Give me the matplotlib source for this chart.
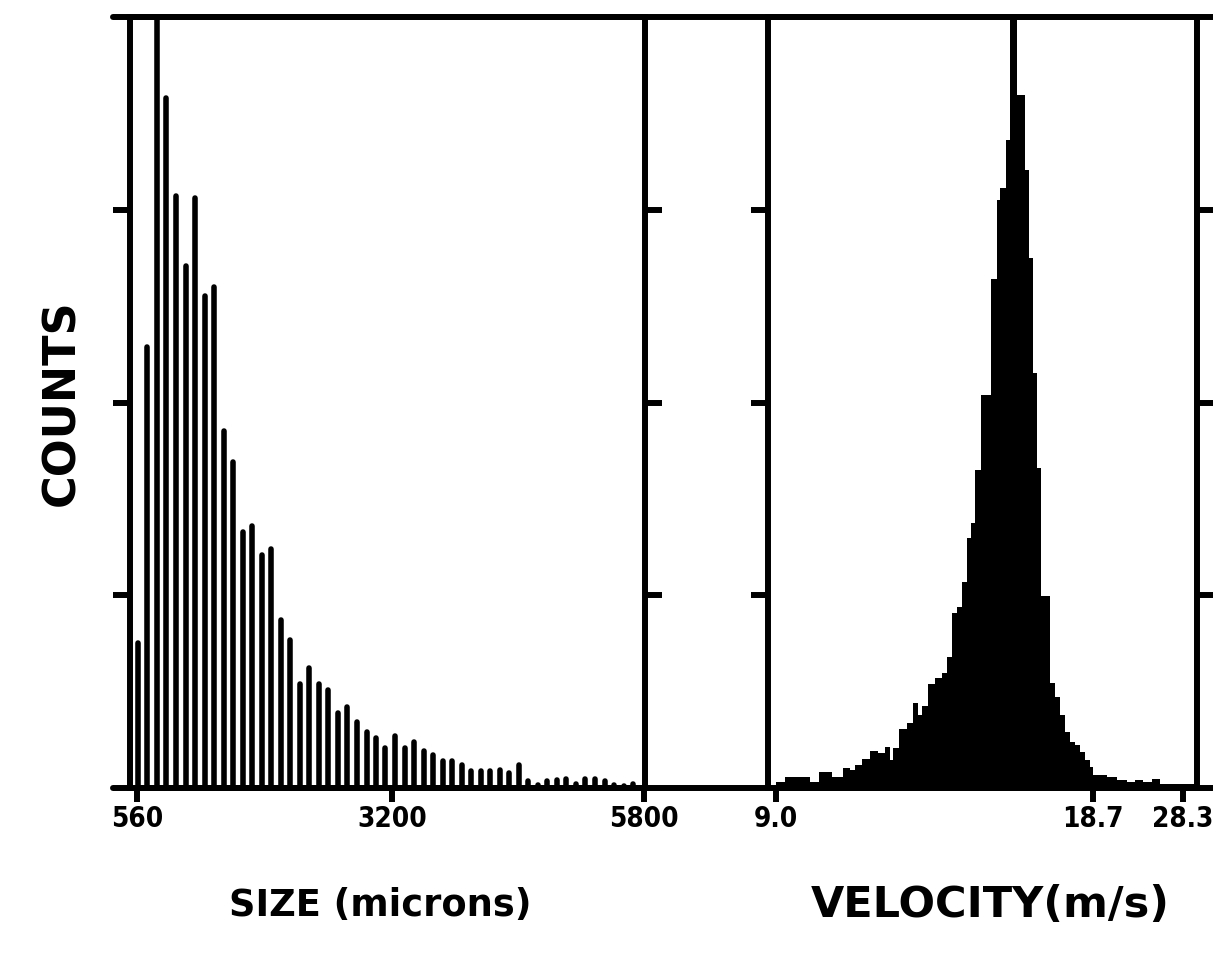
import numpy as np
import matplotlib.pyplot as plt
from matplotlib.lines import Line2D

# size histogram: bin centres (microns) and counts
size_bins = [570, 668, 767, 865, 964, 1062, 1160, 1259, 1357, 1456,
             1554, 1652, 1751, 1849, 1948, 2046, 2144, 2243, 2341, 2440,
             2538, 2636, 2735, 2833, 2932, 3030, 3128, 3227, 3325, 3424,
             3522, 3620, 3719, 3817, 3916, 4014, 4112, 4211, 4309, 4408,
             4506, 4604, 4703, 4801, 4900, 4998, 5096, 5195, 5293, 5392,
             5490, 5588, 5687]
size_counts = [75, 229, 450, 358, 307, 271, 306, 255, 260, 185,
               169, 133, 136, 121, 124, 87, 77, 54, 62, 54,
               51, 39, 42, 34, 29, 26, 21, 27, 21, 24,
               19, 17, 14, 14, 12, 9, 9, 9, 9.5, 8,
               12, 3.5, 1.5, 3.5, 4, 4.5, 2, 4.5, 4.5, 3.5,
               1.5, 1, 2]

# velocity histogram: step edges (m/s) and counts
vel_edges = [9.00, 9.28, 10.04, 10.32, 10.71, 11.05, 11.26, 11.42, 11.63, 11.88,
             12.12, 12.34, 12.49, 12.58, 12.76, 13.01, 13.19, 13.35, 13.47, 13.65,
             13.87, 14.08, 14.23, 14.39, 14.54, 14.69, 14.84, 14.97, 15.09, 15.27,
             15.58, 15.76, 15.85, 16.04, 16.16, 16.37, 16.62, 16.74, 16.86, 16.99,
             17.11, 17.38, 17.54, 17.69, 17.84, 18.00, 18.15, 18.30, 18.46, 18.61,
             18.70, 20.19, 21.26, 22.33, 23.18, 24.03, 24.99, 25.85, 29.58]
vel_counts = [3.1, 5.7, 3.1, 8.3, 5.7, 10.4, 9.3, 11.9, 15.0, 19.2,
              18.2, 21.3, 14.5, 20.8, 30.6, 33.7, 44.1, 37.9, 42.5, 54.0,
              57.1, 59.7, 68.0, 90.8, 93.9, 106.9, 129.7, 137.5, 165.0, 203.9,
              264.1, 305.1, 311.3, 336.2, 420.0, 359.5, 320.6, 275.0, 215.3, 166.0,
              99.6, 54.5, 47.2, 37.9, 29.1, 23.9, 22.3, 18.7, 14.5, 10.9,
              6.7, 5.7, 4.2, 3.1, 4.2, 3.1, 4.7, 2.1]

size_ticks = [560, 3200, 5800]
size_labels = ['560', '3200', '5800']
vel_ticks = [9.0, 18.7, 28.3]
vel_labels = ['9.0', '18.7', '28.3']
count_ticks = [100, 200, 300]

# velocity axis is stretched below 18.7 and compressed above it
vel_knots = [0.0, 9.0, 18.7, 28.3, 40.0]
pix_knots = [-294.1, 0.0, 317.0, 407.0, 516.7]


def vel_fwd(v):
    return np.interp(v, vel_knots, pix_knots)


def vel_inv(p):
    return np.interp(p, pix_knots, vel_knots)


W, H = 1213, 975
fig = plt.figure(figsize=(W / 100, H / 100), dpi=100)
ax1 = fig.add_axes([130 / W, 1 - 788 / H, 515 / W, 771 / H])
ax2 = fig.add_axes([768 / W, 1 - 788 / H, 429 / W, 771 / H])

lw = 4.3
tick_font = dict(family=['Liberation Sans Narrow', 'DejaVu Sans'],
                 weight='bold', size=20, stretch='condensed')

ax1.vlines(size_bins, 0, size_counts, color='black', lw=4.0,
           capstyle='round')
ax1.set_xlim(488, 5810)

ax2.stairs(vel_counts, vel_edges, fill=True, color='black', lw=1.5)
ax2.set_xscale('function', functions=(vel_fwd, vel_inv))
ax2.set_xlim(8.755, 29.79)

for ax, ticks, labels in [(ax1, size_ticks, size_labels),
                          (ax2, vel_ticks, vel_labels)]:
    ax.set_ylim(0, 400)
    ax.set_yticks(count_ticks)
    ax.set_yticklabels([])
    ax.set_xticks(ticks)
    ax.set_xticklabels(labels, fontdict=tick_font)
    ax.xaxis.set_minor_locator(plt.NullLocator())
    ax.yaxis.set_minor_locator(plt.NullLocator())
    ax.tick_params(axis='y', which='major', direction='out', length=12,
                   width=lw, left=True, right=True)
    ax.tick_params(axis='x', which='major', direction='out', length=10,
                   width=lw, pad=2)
    for s in ax.spines.values():
        s.set_linewidth(lw)
        s.set_capstyle('projecting')

# top and bottom rules run across both panels
for yy in [1 - 17 / H, 1 - 788 / H]:
    fig.add_artist(Line2D([113 / W, 1.0], [yy, yy], color='black', lw=lw,
                          solid_capstyle='round'))

lab_font = dict(family='DejaVu Sans', weight='bold')
fig.text(62 / W, 1 - 403 / H, 'COUNTS', rotation=90, ha='center',
         va='center', size=32, **lab_font)
fig.text(380 / W, 1 - 905 / H, 'SIZE (microns)', ha='center', va='center',
         size=26.5, **lab_font)
fig.text(990 / W, 1 - 905 / H, 'VELOCITY(m/s)', ha='center', va='center',
         size=31, **lab_font)

fig.savefig('out.png', dpi=100, facecolor='white')
